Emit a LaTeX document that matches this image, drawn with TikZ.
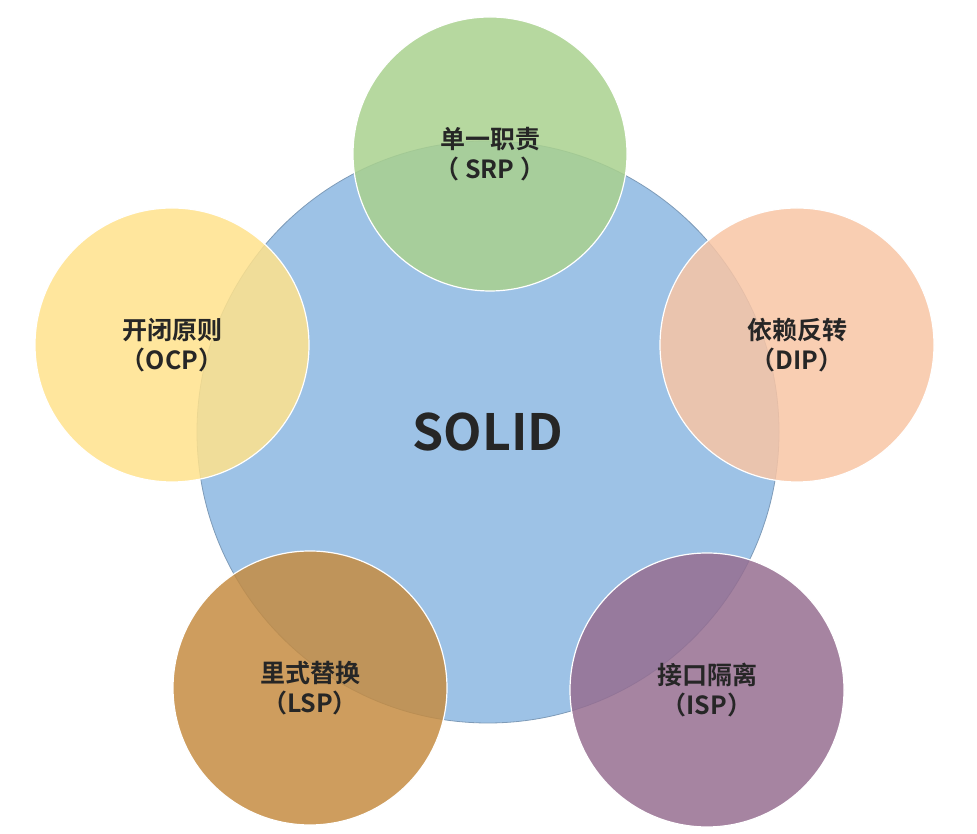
\documentclass[tikz,border=0pt]{standalone}
\usepackage{fontspec}
\setmainfont{Noto Sans CJK SC}[BoldFont={* Bold}]
\begin{document}
\begin{tikzpicture}[x=1pt,y=1pt,
  small/.style={circle,minimum size=274pt,inner sep=0pt,draw=white,line width=1.2pt,fill opacity=0.85,text opacity=1,font=\fontsize{25}{30}\selectfont\bfseries,text=black!85,align=center}]
\definecolor{cblue}{RGB}{157,194,230}
\definecolor{cgreen}{RGB}{169,209,142}
\definecolor{cyellow}{RGB}{255,226,140}
\definecolor{corange}{RGB}{248,197,165}
\definecolor{cbrown}{RGB}{197,140,66}
\definecolor{cpurple}{RGB}{150,110,145}
\useasboundingbox (0,0) rectangle (977,834);
\node[circle,minimum size=582pt,inner sep=0pt,fill=cblue,draw=cblue!80!black,line width=0.8pt,font=\fontsize{50}{60}\selectfont\bfseries,text=black!85] (solid) at (488,402) {SOLID};
\node[small,fill=cgreen] (srp) at (490,680) {单一职责\\（ SRP ）};
\node[small,fill=cyellow] (ocp) at (172,489) {开闭原则\\（OCP）};
\node[small,fill=corange] (dip) at (797,489) {依赖反转\\（DIP）};
\node[small,fill=cbrown] (lsp) at (310,146) {里式替换\\（LSP）};
\node[small,fill=cpurple] (isp) at (707,144) {接口隔离\\（ISP）};
\end{tikzpicture}
\end{document}
